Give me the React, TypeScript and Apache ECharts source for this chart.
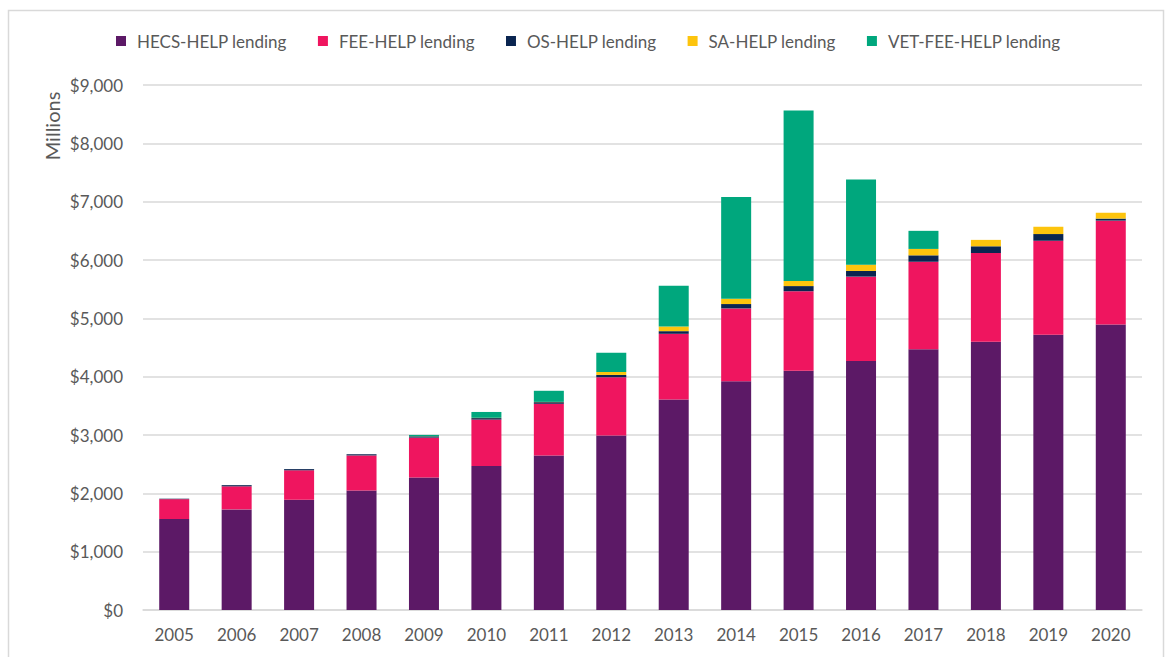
import React, { useEffect, useRef } from "react";
import * as echarts from "echarts";

const years = ["2005", "2006", "2007", "2008", "2009", "2010", "2011", "2012", "2013", "2014", "2015", "2016", "2017", "2018", "2019", "2020"];
const hecsHelp = [1560, 1725, 1890, 2050, 2270, 2470, 2650, 2990, 3610, 3920, 4100, 4270, 4470, 4600, 4720, 4895];
const feeHelp = [340, 395, 505, 600, 685, 795, 885, 1000, 1125, 1250, 1365, 1445, 1500, 1520, 1610, 1780];
const osHelp = [8, 20, 20, 20, 22, 25, 28, 40, 45, 75, 88, 97, 110, 115, 115, 35];
const saHelp = [0, 0, 0, 0, 2, 5, 5, 50, 80, 90, 88, 108, 110, 110, 125, 100];
const vetFeeHelp = [0, 0, 0, 0, 22, 100, 190, 330, 700, 1745, 2920, 1460, 310, 0, 0, 0];

const seriesNames = ["HECS-HELP lending", "FEE-HELP lending", "OS-HELP lending", "SA-HELP lending", "VET-FEE-HELP lending"];
const seriesColors = ["#5C1966", "#EF155F", "#0A2550", "#FDC40D", "#00A77D"];
const seriesData = [hecsHelp, feeHelp, osHelp, saHelp, vetFeeHelp];

const FONT = "Lato, 'Noto Sans', sans-serif";

export default function App() {
  const ref = useRef<HTMLDivElement>(null);
  useEffect(() => {
    if (!ref.current) return;
    const chart = echarts.init(ref.current, undefined, { renderer: "svg" });
    chart.setOption({
      animation: false,
      backgroundColor: "#ffffff",
      textStyle: { fontFamily: FONT },
      legend: {
        top: 26,
        left: 111,
        icon: "rect",
        itemWidth: 10,
        itemHeight: 10,
        itemGap: 31,
        textStyle: { fontSize: 17, color: "#595959", fontFamily: FONT, lineHeight: 20, padding: [0, 0, 0, 6] },
        data: seriesNames,
      },
      grid: { left: 143, right: 25, top: 85, bottom: 47 },
      xAxis: {
        type: "category",
        data: years,
        axisLine: { show: true, lineStyle: { color: "#D9D9D9", width: 1.5 } },
        axisTick: { show: false },
        axisLabel: { fontSize: 17, color: "#595959", margin: 16, fontFamily: FONT },
      },
      yAxis: {
        type: "value",
        min: 0,
        max: 9000,
        interval: 1000,
        axisLine: { show: false },
        axisTick: { show: false },
        splitLine: { lineStyle: { color: "#D9D9D9", width: 1.5 } },
        axisLabel: {
          fontSize: 17,
          color: "#595959",
          margin: 20,
          fontFamily: FONT,
          formatter: (v: number) => "$" + v.toLocaleString("en-US"),
        },
      },
      graphic: [
        {
          type: "rect",
          shape: { x: 8.5, y: 10.5, width: 1155, height: 680 },
          style: { fill: "none", stroke: "#D9D9D9", lineWidth: 1.5 },
          silent: true,
        },
        {
          type: "text",
          x: 52,
          y: 126,
          rotation: Math.PI / 2,
          style: {
            text: "Millions",
            fontSize: 20,
            fill: "#595959",
            fontFamily: FONT,
            align: "center",
            verticalAlign: "middle",
          },
        },
      ],
      series: seriesNames.map((name, i) => ({
        name,
        type: "bar",
        stack: "total",
        barWidth: 30,
        data: seriesData[i],
        itemStyle: { color: seriesColors[i] },
      })),
    });
    return () => chart.dispose();
  }, []);
  return <div ref={ref} style={{ position: "fixed", left: 0, top: 0, width: 1167, height: 657 }} />;
}
